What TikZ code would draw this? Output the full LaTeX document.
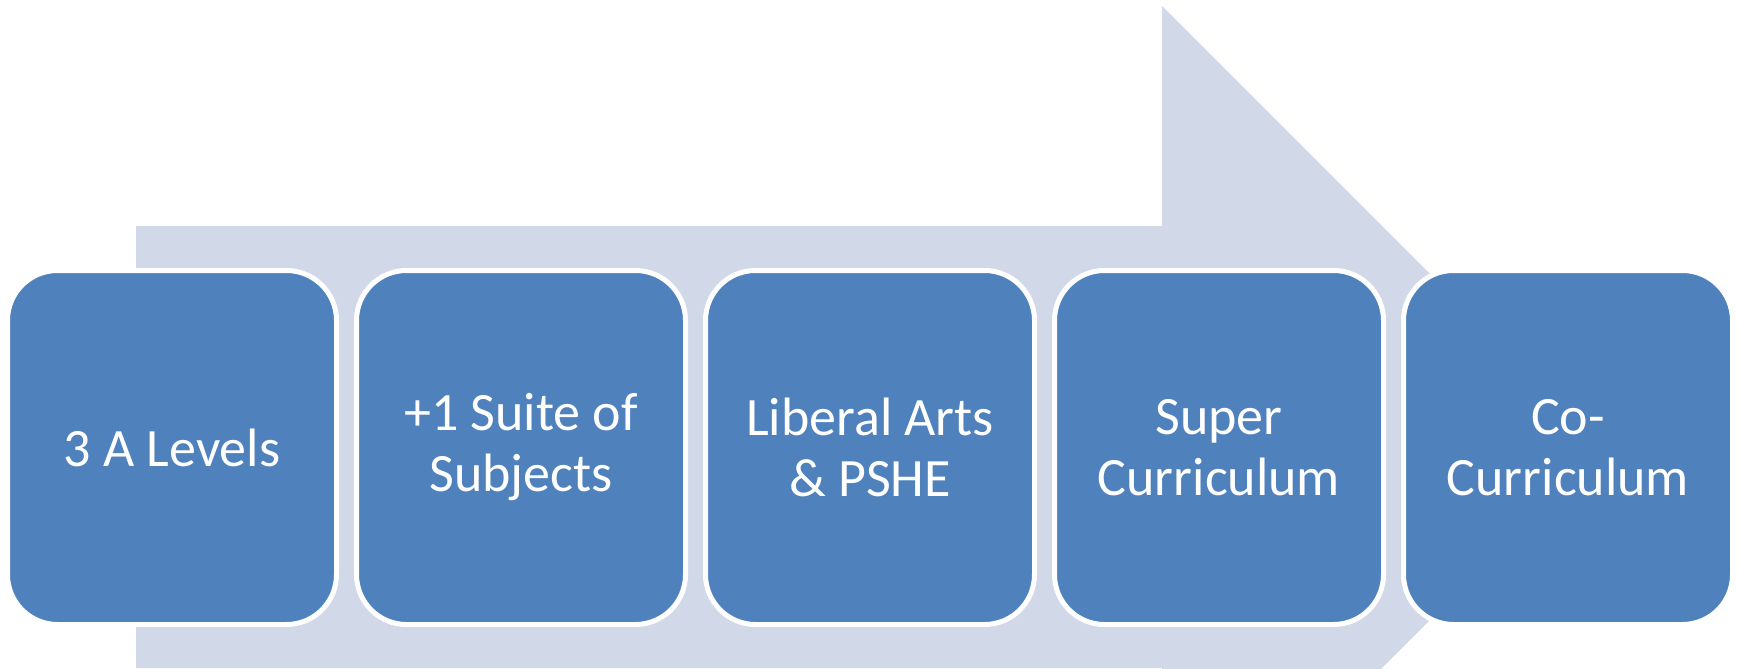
\documentclass[tikz,border=0pt]{standalone}
\usepackage{fontspec}
\setmainfont{Carlito}
\definecolor{boxblue}{HTML}{4F81BD}
\definecolor{arrowgrey}{HTML}{D1D8E8}
\begin{document}
\begin{tikzpicture}[x=1pt,y=-1pt,
  stepbox/.style={draw=white, line width=5pt, fill=boxblue, rounded corners=50pt,
    minimum width=329pt, minimum height=354pt, inner sep=0pt, align=center,
    text=white, font=\fontsize{54}{61}\selectfont}]
\useasboundingbox (0,0) rectangle (1737,669);
\begin{scope}
\clip (0,0) rectangle (1737,669);
\fill[arrowgrey] (136,226) -- (1162,226) -- (1162,6) -- (1603,447) -- (1162,888) -- (1162,668) -- (136,668) -- cycle;
\end{scope}
\node[stepbox] (b1) at (172,447.5) {3 A Levels};
\node[stepbox] (b2) at (521,447.5) {+1 Suite of\\Subjects};
\node[stepbox] (b3) at (870,447.5) {Liberal Arts\\\& PSHE};
\node[stepbox] (b4) at (1219,447.5) {Super\\Curriculum};
\node[stepbox] (b5) at (1568,447.5) {Co-\\Curriculum};
\end{tikzpicture}
\end{document}
